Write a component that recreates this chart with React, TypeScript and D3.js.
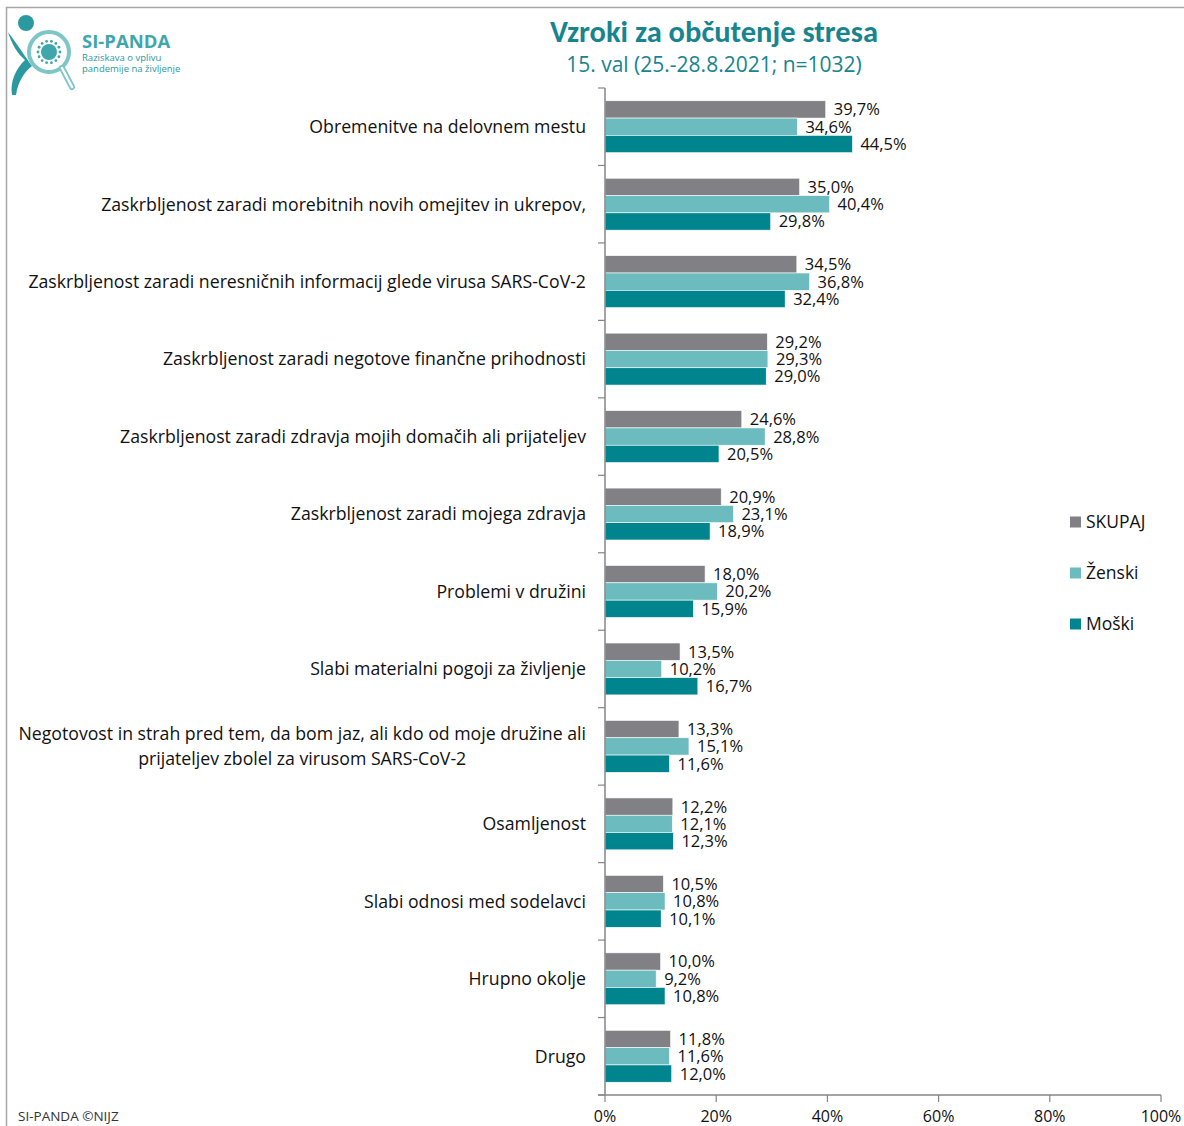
import React, { useEffect, useRef } from "react";
import * as d3 from "d3";

const categories: string[][] = [
  ["Obremenitve na delovnem mestu"],
  ["Zaskrbljenost zaradi morebitnih novih omejitev in ukrepov,"],
  ["Zaskrbljenost zaradi neresničnih informacij glede virusa SARS-CoV-2"],
  ["Zaskrbljenost zaradi negotove finančne prihodnosti"],
  ["Zaskrbljenost zaradi zdravja mojih domačih ali prijateljev"],
  ["Zaskrbljenost zaradi mojega zdravja"],
  ["Problemi v družini"],
  ["Slabi materialni pogoji za življenje"],
  ["Negotovost in strah pred tem, da bom jaz, ali kdo od moje družine ali", "prijateljev zbolel za virusom SARS-CoV-2"],
  ["Osamljenost"],
  ["Slabi odnosi med sodelavci"],
  ["Hrupno okolje"],
  ["Drugo"],
];

const skupaj = [39.7, 35.0, 34.5, 29.2, 24.6, 20.9, 18.0, 13.5, 13.3, 12.2, 10.5, 10.0, 11.8];
const zenski = [34.6, 40.4, 36.8, 29.3, 28.8, 23.1, 20.2, 10.2, 15.1, 12.1, 10.8, 9.2, 11.6];
const moski = [44.5, 29.8, 32.4, 29.0, 20.5, 18.9, 15.9, 16.7, 11.6, 12.3, 10.1, 10.8, 12.0];

const seriesNames = ["SKUPAJ", "Ženski", "Moški"];
const seriesColors = ["#808085", "#6bbbbf", "#00858f"];
const xTicks = [0, 20, 40, 60, 80, 100];

const FONT = "'Open Sans', 'DejaVu Sans', sans-serif";

export default function App() {
  const ref = useRef<SVGSVGElement>(null);

  useEffect(() => {
    const svg = d3.select(ref.current);
    svg.selectAll("*").remove();

    const W = 1184, H = 1126;
    const left = 605, right = 1161, top = 88, bottom = 1095;

    // frame
    svg.append("path")
      .attr("d", `M6.5,${H} V7.5 H${W}`)
      .attr("fill", "none").attr("stroke", "#a6a6a6").attr("stroke-width", 1.5);

    const x = d3.scaleLinear().domain([0, 100]).range([left, right]);
    const y = d3.scaleBand<number>().domain(d3.range(categories.length)).range([top, bottom]).paddingInner(0.33).paddingOuter(0.165);
    const yb = d3.scaleBand<number>().domain([0, 1, 2]).range([0, y.bandwidth()]);

    const series = [skupaj, zenski, moski];

    // title
    svg.append("text").attr("x", 714).attr("y", 42).attr("text-anchor", "middle")
      .attr("font-family", "Calibri, Carlito, 'Open Sans', sans-serif").attr("font-weight", 700).attr("font-size", 30.5)
      .attr("fill", "#17858f").text("Vzroki za občutenje stresa");
    svg.append("text").attr("x", 714).attr("y", 72).attr("text-anchor", "middle")
      .attr("font-family", FONT).attr("font-size", 21)
      .attr("fill", "#17858f").text("15. val (25.-28.8.2021; n=1032)");

    // bars
    const g = svg.append("g");
    series.forEach((vals, si) => {
      g.selectAll(`rect.s${si}`).data(vals).enter().append("rect")
        .attr("x", x(0))
        .attr("y", (_d, i) => (y(i) as number) + (yb(si) as number))
        .attr("width", (d) => x(d) - x(0))
        .attr("height", yb.bandwidth())
        .attr("fill", seriesColors[si])
        .attr("stroke", "#ffffff").attr("stroke-width", 0.6);
      g.selectAll(`text.s${si}`).data(vals).enter().append("text")
        .attr("x", (d) => x(d) + 8)
        .attr("y", (_d, i) => (y(i) as number) + (yb(si) as number) + yb.bandwidth() / 2)
        .attr("dy", "0.36em")
        .attr("font-family", FONT).attr("font-size", 16.5).attr("fill", "#111")
        .text((d) => d.toFixed(1).replace(".", ",") + "%");
    });

    // y axis
    svg.append("line").attr("x1", left).attr("x2", left).attr("y1", top).attr("y2", bottom)
      .attr("stroke", "#868686").attr("stroke-width", 1.5);
    const step = y.step();
    d3.range(categories.length + 1).forEach((i) => {
      const yy = top + i * step;
      svg.append("line").attr("x1", left - 7).attr("x2", left).attr("y1", yy).attr("y2", yy)
        .attr("stroke", "#868686").attr("stroke-width", 1.2);
    });

    // category labels
    const LFS = 17.7;
    categories.forEach((lines, i) => {
      const cy = (y(i) as number) + y.bandwidth() / 2;
      const lh = 25;
      const y0 = cy - ((lines.length - 1) * lh) / 2;
      const t0 = svg.append("text").attr("x", 586).attr("y", y0).attr("dy", "0.36em")
        .attr("text-anchor", "end").attr("font-family", FONT).attr("font-size", LFS).attr("fill", "#111")
        .text(lines[0]);
      if (lines.length > 1) {
        const w0 = (t0.node() as SVGTextElement).getComputedTextLength();
        const cx = 586 - w0 / 2;
        for (let k = 1; k < lines.length; k++) {
          svg.append("text").attr("x", cx).attr("y", y0 + k * lh).attr("dy", "0.36em")
            .attr("text-anchor", "middle").attr("font-family", FONT).attr("font-size", LFS).attr("fill", "#111")
            .text(lines[k]);
        }
      }
    });

    // x axis
    svg.append("line").attr("x1", left - 7).attr("x2", right).attr("y1", bottom).attr("y2", bottom)
      .attr("stroke", "#868686").attr("stroke-width", 1.5);
    xTicks.forEach((t) => {
      svg.append("line").attr("x1", x(t)).attr("x2", x(t)).attr("y1", bottom).attr("y2", bottom + 7)
        .attr("stroke", "#868686").attr("stroke-width", 1.2);
      svg.append("text").attr("x", x(t)).attr("y", 1116).attr("dy", "0.36em").attr("text-anchor", "middle")
        .attr("font-family", FONT).attr("font-size", 16).attr("fill", "#111").text(`${t}%`);
    });

    // legend
    seriesNames.forEach((n, i) => {
      const ly = 522 + i * 51;
      svg.append("rect").attr("x", 1070).attr("y", ly - 5.5).attr("width", 11).attr("height", 11).attr("fill", seriesColors[i]);
      svg.append("text").attr("x", 1086).attr("y", ly).attr("dy", "0.36em")
        .attr("font-family", FONT).attr("font-size", 17.5).attr("fill", "#111").text(n);
    });

    // footer
    svg.append("text").attr("x", 18).attr("y", 1116).attr("dy", "0.36em")
      .attr("font-family", FONT).attr("font-size", 13.5).attr("fill", "#333").text("SI-PANDA ©NIJZ");

    // logo
    const lg = svg.append("g");
    lg.append("path").attr("d", "M8,32 C12,45 18,54 25,60 C15,70 10,82 12,95 L16,95 C18,82 24,72 32,66 C26,58 20,48 8,32 Z")
      .attr("fill", "#2a9aa0");
    lg.append("circle").attr("cx", 26).attr("cy", 23).attr("r", 8).attr("fill", "#2a9aa0");
    lg.append("circle").attr("cx", 49).attr("cy", 52).attr("r", 20).attr("fill", "#fff").attr("stroke", "#7cc5c8").attr("stroke-width", 4);
    lg.append("line").attr("x1", 62).attr("y1", 68).attr("x2", 72).attr("y2", 87).attr("stroke", "#7cc5c8").attr("stroke-width", 6).attr("stroke-linecap", "round");
    lg.append("line").attr("x1", 62).attr("y1", 68).attr("x2", 72).attr("y2", 87).attr("stroke", "#fff").attr("stroke-width", 2.5).attr("stroke-linecap", "round");
    lg.append("circle").attr("cx", 49).attr("cy", 52).attr("r", 8).attr("fill", "#3fa6ac");
    d3.range(14).forEach((k) => {
      const a = (k / 14) * Math.PI * 2;
      lg.append("circle").attr("cx", 49 + Math.cos(a) * 11).attr("cy", 52 + Math.sin(a) * 11).attr("r", 1.4).attr("fill", "#3fa6ac");
    });
    lg.append("text").attr("x", 82).attr("y", 48).attr("font-family", FONT).attr("font-weight", 700).attr("font-size", 18.5)
      .attr("fill", "#3fa6ac").text("SI-PANDA");
    lg.append("text").attr("x", 82).attr("y", 61).attr("font-family", FONT).attr("font-size", 9.5)
      .attr("fill", "#2a9aa0").text("Raziskava o vplivu");
    lg.append("text").attr("x", 82).attr("y", 72).attr("font-family", FONT).attr("font-size", 9.5)
      .attr("fill", "#2a9aa0").text("pandemije na življenje");
  }, []);

  return (
    <svg ref={ref} width={1184} height={1126} style={{ display: "block", position: "absolute", left: 0, top: 0, background: "#fff" }} />
  );
}
